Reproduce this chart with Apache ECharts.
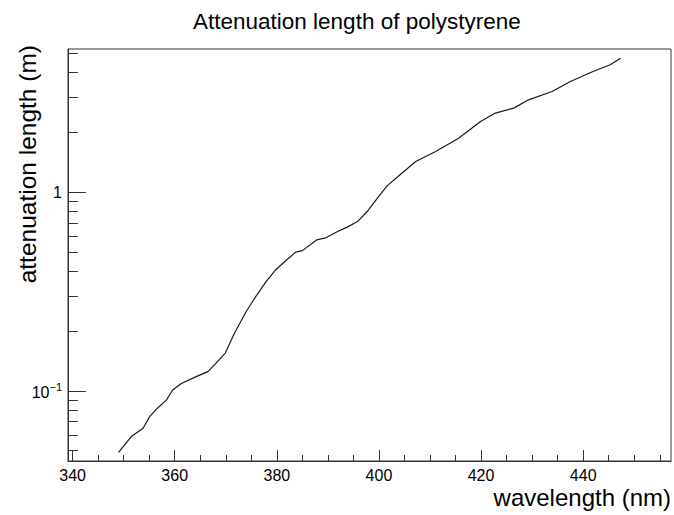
<!DOCTYPE html>
<html>
<head>
<meta charset="utf-8">
<script src="https://cdn.jsdelivr.net/npm/echarts@6/dist/echarts.min.js"></script>
<style>html,body{margin:0;padding:0;background:#fff;}#c{width:674px;height:515px;}</style>
</head>
<body>
<div id="c"></div>
<script>
// Data
const wavelength = [349.0, 351.5, 353.8, 355.1, 356.4, 358.4, 359.6, 361.3, 364.2, 366.5, 368.1, 369.9, 371.7, 374.0, 375.9, 377.9, 379.8, 381.8, 383.7, 385.0, 387.8, 389.6, 391.9, 393.8, 395.8, 397.7, 400.0, 401.6, 403.9, 407.2, 411.1, 415.6, 419.9, 422.8, 426.4, 429.3, 433.9, 437.5, 441.7, 445.3, 447.3];
const attLength = [0.0491, 0.0589, 0.0649, 0.0743, 0.0809, 0.0901, 0.101, 0.109, 0.118, 0.125, 0.138, 0.155, 0.195, 0.251, 0.299, 0.355, 0.407, 0.453, 0.499, 0.508, 0.575, 0.589, 0.634, 0.667, 0.711, 0.799, 0.955, 1.075, 1.21, 1.426, 1.600, 1.869, 2.265, 2.50, 2.647, 2.914, 3.21, 3.604, 4.02, 4.372, 4.72];
const xMajorTicks = [340, 360, 380, 400, 420, 440];
const xMinorTicks = [345, 350, 355, 365, 370, 375, 385, 390, 395, 405, 410, 415, 425, 430, 435, 445, 450, 455];
const yMajorTicks = [0.1, 1];
const yMinorTicks = [0.05, 0.06, 0.07, 0.08, 0.09, 0.2, 0.3, 0.4, 0.5, 0.6, 0.7, 0.8, 0.9, 2, 3, 4, 5];
const xRange = [339.1, 457.2];
const yRange = [0.0444, 5.25];

const FONT = 'Liberation Sans, Arial, Helvetica, sans-serif';
const chart = echarts.init(document.getElementById('c'), null, {renderer: 'svg'});

function yLabel(v) {
  if (Math.abs(v - 1) < 1e-9) return '1';
  const e = Math.round(Math.log10(v));
  return '{b|10}{s|' + (e < 0 ? '\u2212' : '') + Math.abs(e) + '}';
}

const option = {
  animation: false,
  backgroundColor: '#fff',
  title: {
    text: 'Attenuation length of polystyrene',
    left: 193, top: 10, padding: 0,
    textStyle: {fontFamily: FONT, fontSize: 22.5, fontWeight: 'normal', color: '#000'}
  },
  grid: {left: 68, top: 49, right: 1.3, bottom: 54, show: true, borderColor: '#333', borderWidth: 1, containLabel: false},
  xAxis: [{
    type: 'value', min: xRange[0], max: xRange[1], position: 'bottom',
    name: 'wavelength (nm)', nameLocation: 'end', nameGap: 0,
    nameTextStyle: {fontFamily: FONT, fontSize: 24, color: '#000', align: 'right', verticalAlign: 'top', padding: [24, 0, 0, 0]},
    axisLine: {show: true, lineStyle: {color: '#333', width: 1}},
    axisTick: {show: true, inside: true, length: 11, customValues: xMajorTicks, lineStyle: {color: '#333'}},
    axisLabel: {show: true, customValues: xMajorTicks, margin: 6, fontFamily: FONT, fontSize: 16, color: '#000'},
    splitLine: {show: false}
  }, {
    type: 'value', min: xRange[0], max: xRange[1], position: 'bottom',
    axisLine: {show: false},
    axisTick: {show: true, inside: true, length: 6, customValues: xMinorTicks, lineStyle: {color: '#333'}},
    axisLabel: {show: false},
    splitLine: {show: false}
  }],
  yAxis: [{
    type: 'log', logBase: 10, min: yRange[0], max: yRange[1], position: 'left',
    name: 'attenuation length (m)', nameLocation: 'end', nameRotate: 90, nameGap: 4,
    nameTextStyle: {fontFamily: FONT, fontSize: 24.5, color: '#000', align: 'right', verticalAlign: 'bottom', padding: [0, 0, 28, 0]},
    axisLine: {show: true, lineStyle: {color: '#333', width: 1}},
    axisTick: {show: true, inside: true, length: 18, customValues: yMajorTicks, lineStyle: {color: '#333'}},
    axisLabel: {
      show: true, customValues: yMajorTicks, margin: 6, fontFamily: FONT, fontSize: 16, color: '#000',
      formatter: yLabel,
      rich: {
        b: {fontFamily: FONT, fontSize: 16, color: '#000', verticalAlign: 'bottom', lineHeight: 19},
        s: {fontFamily: FONT, fontSize: 11, color: '#000', verticalAlign: 'top', lineHeight: 11}
      }
    },
    splitLine: {show: false}
  }, {
    type: 'log', logBase: 10, min: yRange[0], max: yRange[1], position: 'left',
    axisLine: {show: false},
    axisTick: {show: true, inside: true, length: 10, customValues: yMinorTicks, lineStyle: {color: '#333'}},
    axisLabel: {show: false},
    splitLine: {show: false}
  }],
  series: [{
    type: 'line',
    xAxisIndex: 0, yAxisIndex: 0,
    data: wavelength.map((w, i) => [w, attLength[i]]),
    showSymbol: false, symbol: 'none', smooth: false,
    lineStyle: {color: '#1a1a1a', width: 1.2},
    silent: true
  }]
};
chart.setOption(option);
</script>
</body>
</html>
